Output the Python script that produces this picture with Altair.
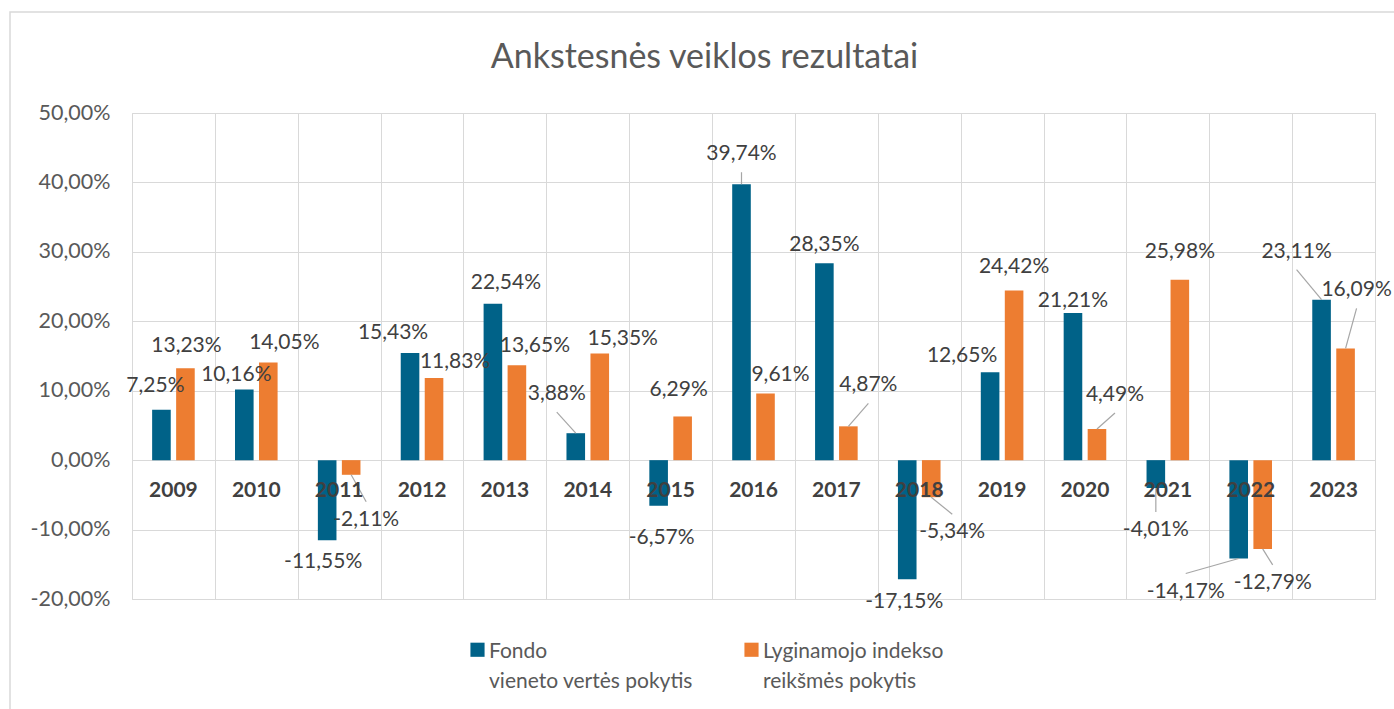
import altair as alt
import pandas as pd

# ---------------- data ----------------
years = [2009, 2010, 2011, 2012, 2013, 2014, 2015, 2016, 2017, 2018, 2019, 2020, 2021, 2022, 2023]
fondo = [7.25, 10.16, -11.55, 15.43, 22.54, 3.88, -6.57, 39.74, 28.35, -17.15, 12.65, 21.21, -4.01, -14.17, 23.11]
indeksas = [13.23, 14.05, -2.11, 11.83, 13.65, 15.35, 6.29, 9.61, 4.87, -5.34, 24.42, 4.49, 25.98, -12.79, 16.09]
series_names = ["Fondo vieneto vertės pokytis", "Lyginamojo indekso reikšmės pokytis"]
series_colors = ["#006288", "#ED7D31"]
title_text = "Ankstesnės veiklos rezultatai"
y_ticks = [-20, -10, 0, 10, 20, 30, 40, 50]

# label nudges in pixels (relative to bar end), as placed in the reference
fondo_dx = [-6, -8, -4, -17, 13, -19, 3, 0, 0, -3, -28, 0, 0, -53, -25]
fondo_dy = [-24, -15, 22, -20, -21, -39, 32, -30, -18, 23, -16, -12, 42, 33, -48]
fondo_leader = [0, 0, 0, 0, 0, 1, 0, 1, 0, 0, 0, 0, 1, 1, 1]
indeks_dx = [1, 16, 15, 21, 18, 23, -4, 15, 20, 21, 0, 18, 0, 10, 11]
indeks_dy = [-22, -20, 45, -16, -19, -15, -26, -18, -41, 35, -24, -34, -28, 34, -58]
indeks_leader = [0, 0, 1, 0, 0, 0, 0, 0, 1, 1, 0, 1, 0, 1, 1]

# ---------------- layout ----------------
W, H = 1243, 486
PAD = {"left": 132, "top": 113, "right": 1394 - 132 - W, "bottom": 709 - 113 - H}
X_MIN, X_MAX = years[0] - 0.5, years[-1] + 0.5
Y_MIN, Y_MAX = y_ticks[0], y_ticks[-1]
PX_X = W / (X_MAX - X_MIN)
PX_Y = H / (Y_MAX - Y_MIN)
BAR_SHIFT = 12 / PX_X
BAR_HALF = 9.3 / PX_X
LEADER_GAP = 18
LABEL_SHIFT = -9   # vertical nudge of legend labels (guide-label style)


def fmt(v):
    return f"{v:.2f}".replace(".", ",") + "%"


rows = []
for sname, vals, dxs, dys, leads, sgn in [
    (series_names[0], fondo, fondo_dx, fondo_dy, fondo_leader, -1),
    (series_names[1], indeksas, indeks_dx, indeks_dy, indeks_leader, 1),
]:
    for yr, v, dx, dy, ld in zip(years, vals, dxs, dys, leads):
        xc = yr + sgn * BAR_SHIFT
        ey_px = dy - (LEADER_GAP if dy > 0 else -LEADER_GAP)
        rows.append({
            "year": yr,
            "series": sname,
            "value": v,
            "zero": 0,
            "xc": xc,
            "x0": xc - BAR_HALF,
            "x1": xc + BAR_HALF,
            "lx": xc + dx / PX_X,
            "ly": v - dy / PX_Y,
            "ex": xc + dx / PX_X,
            "ey": v - ey_px / PX_Y,
            "leader": bool(ld),
            "label": fmt(v),
        })
df = pd.DataFrame(rows)

FONT = "Lato"
x_scale = alt.Scale(domain=[X_MIN, X_MAX], nice=False, zero=False)
y_scale = alt.Scale(domain=[Y_MIN, Y_MAX], nice=False, zero=False)
x_axis = alt.Axis(values=[X_MIN + i for i in range(len(years) + 1)], grid=True,
                  labels=False, ticks=False, domain=False, gridColor="#d9d9d9",
                  gridWidth=1, title=None)
y_axis = alt.Axis(values=y_ticks, grid=True, gridColor="#d9d9d9", gridWidth=1,
                  ticks=False, domain=False, labelFont=FONT, labelFontSize=21.5,
                  labelColor="#595959", labelPadding=22, title=None,
                  labelOffset=-LABEL_SHIFT,
                  labelExpr="replace(replace(format(datum.value, '.2f'), '.', ','), '\u2212', '-') + '%'")

base = alt.Chart(df)

bars = base.mark_bar().encode(
    x=alt.X("x0:Q", scale=x_scale, axis=x_axis),
    x2="x1:Q",
    y=alt.Y("value:Q", scale=y_scale, axis=y_axis),
    y2="zero:Q",
    color=alt.Color("series:N",
                    scale=alt.Scale(domain=series_names, range=series_colors),
                    legend=alt.Legend(title=None, orient="none", direction="horizontal",
                                      legendX=335, legendY=526,
                                      symbolType="square", symbolSize=200, symbolStrokeWidth=0,
                                      labelFont=FONT, labelFontSize=21, labelColor="#595959",
                                      labelLimit=400, labelOffset=1, columnPadding=48,
                                      labelBaseline="top",
                                      labelExpr="datum.label == '" + series_names[0] +
                                                "' ? ['Fondo', 'vieneto vertės pokytis'] : ['Lyginamojo indekso', 'reikšmės pokytis']")),
)

leaders = base.transform_filter("datum.leader").mark_rule(color="#a6a6a6", strokeWidth=1.2).encode(
    x=alt.X("xc:Q", scale=x_scale, axis=x_axis),
    x2="ex:Q",
    y=alt.Y("value:Q", scale=y_scale, axis=y_axis),
    y2="ey:Q",
)

value_labels = base.mark_text(font=FONT, fontSize=21, color="#404040",
                              align="center", baseline="middle").encode(
    x=alt.X("lx:Q", scale=x_scale, axis=x_axis),
    y=alt.Y("ly:Q", scale=y_scale, axis=y_axis),
    text="label:N",
)

cat_labels = alt.Chart(pd.DataFrame({"year": years, "zero": [0] * len(years)})).mark_text(
    font=FONT, fontSize=21, fontWeight="bold", color="#404040", dy=31,
    align="center", baseline="middle").encode(
    x=alt.X("year:Q", scale=x_scale, axis=x_axis),
    y=alt.Y("zero:Q", scale=y_scale, axis=y_axis),
    text="year:N",
)

FRAME_TOP = 12
frame = alt.Chart(pd.DataFrame({"a": [0]})).mark_rect(
    fill="white", fillOpacity=0, stroke="#d9d9d9", strokeWidth=1.5).encode(
    x=alt.value(10 - PAD["left"]), x2=alt.value(1420 - PAD["left"]),
    y=alt.value(FRAME_TOP - PAD["top"]), y2=alt.value(740 - PAD["top"]),
)

chart = alt.layer(frame, bars, leaders, cat_labels, value_labels).properties(
    width=W, height=H,
    title=alt.TitleParams(title_text, font=FONT, fontSize=34, fontWeight="normal",
                          color="#595959", anchor="middle", frame="group",
                          baseline="alphabetic", dx=-49, offset=FRAME_TOP - 103),
    autosize=alt.AutoSizeParams(type="none"),
    padding=PAD,
    background="white",
).configure(
    style={"guide-label": {"lineHeight": 30, "dy": LABEL_SHIFT}},
    view=alt.ViewConfig(stroke="#d9d9d9", strokeWidth=1),
)

chart.save("out.html", embed_options={"renderer": "svg", "actions": False})
